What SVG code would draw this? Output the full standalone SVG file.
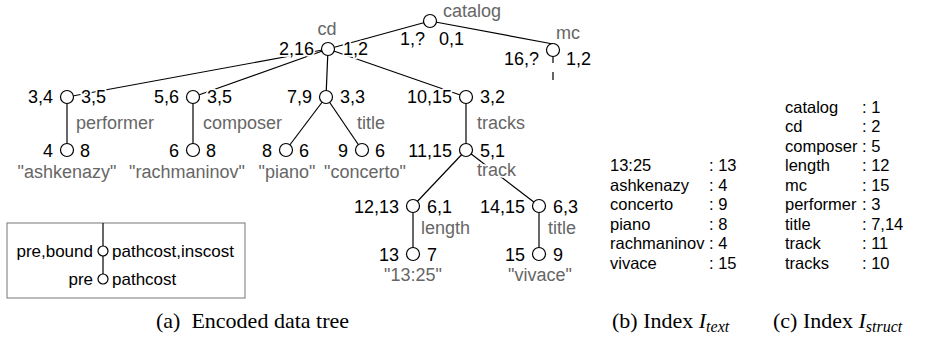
<svg xmlns="http://www.w3.org/2000/svg" width="925" height="343" viewBox="0 0 925 343">
<style>
text{font-family:"Liberation Sans",Arial,sans-serif;font-size:18px;fill:#000;stroke:#fff;stroke-width:3.5px;paint-order:stroke;stroke-linejoin:round}
.g{fill:#666}
.e{text-anchor:end}
.m{text-anchor:middle}
.s{font-size:17px;stroke:none}
.t{font-size:16.5px;stroke:none}
.cap{font-family:"Liberation Serif","Times New Roman",serif;font-size:22px;stroke:none}
circle{fill:#fff;stroke:#000;stroke-width:1.2}
#edges line{stroke:#000;stroke-width:1.2}
</style>
<g id="edges">
<line x1="430" y1="21" x2="328" y2="49"/>
<line x1="430" y1="21" x2="553" y2="44"/>
<line x1="328" y1="49" x2="67" y2="97"/>
<line x1="328" y1="49" x2="193" y2="97"/>
<line x1="328" y1="49" x2="326" y2="97"/>
<line x1="328" y1="49" x2="466" y2="97"/>
<line x1="67" y1="97" x2="67" y2="150"/>
<line x1="193" y1="97" x2="193" y2="150"/>
<line x1="326" y1="97" x2="286" y2="150"/>
<line x1="326" y1="97" x2="362" y2="150"/>
<line x1="466" y1="97" x2="466" y2="150"/>
<line x1="466" y1="150" x2="413" y2="206"/>
<line x1="466" y1="150" x2="539" y2="206"/>
<line x1="413" y1="206" x2="413" y2="254"/>
<line x1="539" y1="206" x2="539" y2="254"/>
<line x1="553" y1="56" x2="553" y2="81" stroke-dasharray="7 9 8 100"/>
</g>
<g id="n-catalog"><circle cx="430" cy="21" r="6.5"/><text class="g" x="443" y="17">catalog</text><text class="e" x="425" y="45">1,?</text><text x="439" y="45">0,1</text></g>
<g id="n-cd"><circle cx="328" cy="49" r="6.5"/><text class="g m" x="327" y="35">cd</text><text class="e" x="314" y="55">2,16</text><text x="343" y="55">1,2</text></g>
<g id="n-mc"><circle cx="553" cy="50" r="6.5"/><text class="g" x="556" y="39">mc</text><text class="e" x="539" y="65">16,?</text><text x="566" y="65">1,2</text></g>
<g id="n-performer"><circle cx="67" cy="97" r="6.5"/><text class="e" x="53" y="103">3,4</text><text x="81" y="103">3,5</text><text class="g" x="76" y="129">performer</text></g>
<g id="n-composer"><circle cx="193" cy="97" r="6.5"/><text class="e" x="179" y="103">5,6</text><text x="207" y="103">3,5</text><text class="g" x="203" y="129">composer</text></g>
<g id="n-title1"><circle cx="326" cy="97" r="6.5"/><text class="e" x="312" y="103">7,9</text><text x="340" y="103">3,3</text><text class="g" x="357" y="129">title</text></g>
<g id="n-tracks"><circle cx="466" cy="97" r="6.5"/><text class="e" x="452" y="103">10,15</text><text x="480" y="103">3,2</text><text class="g" x="477" y="129">tracks</text></g>
<g id="n-ashkenazy"><circle cx="67" cy="150" r="6.5"/><text class="e" x="53" y="157">4</text><text x="80" y="157">8</text><text class="g m" x="67" y="178">"ashkenazy"</text></g>
<g id="n-rachmaninov"><circle cx="193" cy="150" r="6.5"/><text class="e" x="179" y="157">6</text><text x="206" y="157">8</text><text class="g m" x="187" y="178">"rachmaninov"</text></g>
<g id="n-piano"><circle cx="286" cy="150" r="6.5"/><text class="e" x="272" y="157">8</text><text x="299" y="157">6</text><text class="g m" x="287" y="178">"piano"</text></g>
<g id="n-concerto"><circle cx="362" cy="150" r="6.5"/><text class="e" x="348" y="157">9</text><text x="375" y="157">6</text><text class="g m" x="365" y="178">"concerto"</text></g>
<g id="n-track"><circle cx="466" cy="150" r="6.5"/><text class="e" x="452" y="157">11,15</text><text x="480" y="157">5,1</text><text class="g" x="477" y="176">track</text></g>
<g id="n-length"><circle cx="413" cy="206" r="6.5"/><text class="e" x="399" y="213">12,13</text><text x="427" y="213">6,1</text><text class="g" x="421" y="234">length</text></g>
<g id="n-title2"><circle cx="539" cy="206" r="6.5"/><text class="e" x="525" y="213">14,15</text><text x="553" y="213">6,3</text><text class="g" x="548" y="234">title</text></g>
<g id="n-1325"><circle cx="413" cy="254" r="6.5"/><text class="e" x="399" y="261">13</text><text x="427" y="261">7</text><text class="g m" x="413" y="281">"13:25"</text></g>
<g id="n-vivace"><circle cx="539" cy="254" r="6.5"/><text class="e" x="525" y="261">15</text><text x="553" y="261">9</text><text class="g m" x="540" y="281">"vivace"</text></g>
<g id="legend">
<rect x="7" y="223" width="238" height="75" fill="#fff" stroke="#777" stroke-width="1"/>
<line x1="103" y1="223" x2="103" y2="279" stroke="#000" stroke-width="1.2"/>
<circle cx="103" cy="251" r="5"/>
<circle cx="103" cy="279" r="5"/>
<text class="e s" x="93" y="257">pre,bound</text><text class="s" x="112" y="257">pathcost,inscost</text>
<text class="e s" x="93" y="285">pre</text><text class="s" x="112" y="285">pathcost</text>
</g>
<g id="index-text">
<text class="t" x="610" y="171">13:25</text><text class="t" x="709" y="171">: 13</text>
<text class="t" x="610" y="190.5">ashkenazy</text><text class="t" x="709" y="190.5">: 4</text>
<text class="t" x="610" y="210">concerto</text><text class="t" x="709" y="210">: 9</text>
<text class="t" x="610" y="229.5">piano</text><text class="t" x="709" y="229.5">: 8</text>
<text class="t" x="610" y="249">rachmaninov</text><text class="t" x="709" y="249">: 4</text>
<text class="t" x="610" y="268.5">vivace</text><text class="t" x="709" y="268.5">: 15</text>
</g>
<g id="index-struct">
<text class="t" x="785" y="112.5">catalog</text><text class="t" x="862" y="112.5">: 1</text>
<text class="t" x="785" y="132">cd</text><text class="t" x="862" y="132">: 2</text>
<text class="t" x="785" y="151.5">composer</text><text class="t" x="862" y="151.5">: 5</text>
<text class="t" x="785" y="171">length</text><text class="t" x="862" y="171">: 12</text>
<text class="t" x="785" y="190.5">mc</text><text class="t" x="862" y="190.5">: 15</text>
<text class="t" x="785" y="210">performer</text><text class="t" x="862" y="210">: 3</text>
<text class="t" x="785" y="229.5">title</text><text class="t" x="862" y="229.5">: 7,14</text>
<text class="t" x="785" y="249">track</text><text class="t" x="862" y="249">: 11</text>
<text class="t" x="785" y="268.5">tracks</text><text class="t" x="862" y="268.5">: 10</text>
</g>
<g id="captions">
<text class="cap" x="156" y="328" xml:space="preserve">(a)  Encoded data tree</text>
<text class="cap" x="612" y="328">(b) Index <tspan font-style="italic">I</tspan><tspan font-style="italic" font-size="16" dy="4">text</tspan></text>
<text class="cap" x="773" y="328">(c) Index <tspan font-style="italic">I</tspan><tspan font-style="italic" font-size="16" dy="4">struct</tspan></text>
</g>
</svg>
